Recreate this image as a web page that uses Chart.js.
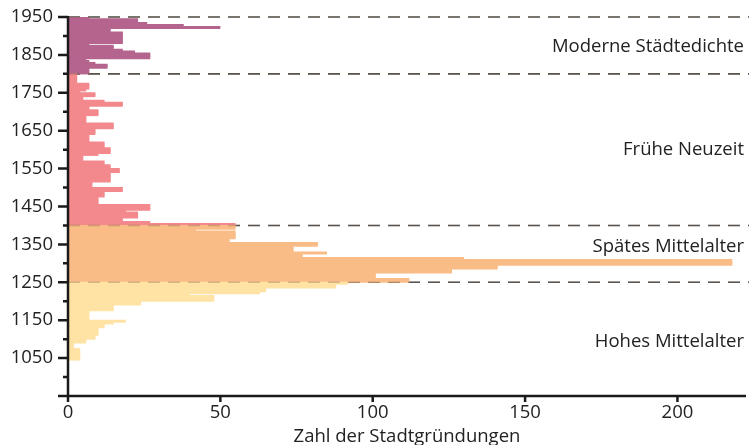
<!DOCTYPE html>
<html>
<head>
<meta charset="utf-8">
<script src="https://cdn.jsdelivr.net/npm/chart.js@4.4.1/dist/chart.umd.min.js"></script>
<style>
  html, body { margin: 0; padding: 0; background: #fff; }
</style>
</head>
<body>
<canvas id="chart" width="749" height="445"></canvas>
<script>
// Stadtgründungen je 5 Jahre, jede Liste beginnt bei ihrem Startjahr
var binYears = 5;

var hohesStart = 1045;
var hohesCounts = [4, 4, 4, 4, 4, 4, 2, 2, 2, 6, 6, 9, 9, 10, 10, 10, 10, 12, 12, 15,
  19, 7, 7, 7, 7, 7, 15, 15, 15, 24, 24, 48, 48, 48, 40, 63, 65, 65, 88, 88, 92];

var spaetesStart = 1250;
var spaetesCounts = [112, 112, 101, 101, 101, 126, 126, 141, 141, 218, 218, 218, 130, 77, 77,
  85, 74, 74, 74, 82, 82, 53, 53, 55, 55, 55, 55, 42, 55, 55];

var fruehStart = 1400;
var fruehCounts = [55, 27, 18, 18, 23, 23, 23, 19, 27, 27,
  27, 10, 10, 10, 10, 12, 12, 12, 18, 18,
  8, 8, 8, 14, 14, 14, 14, 14, 17, 17,
  14, 14, 12, 12, 5, 5, 5, 10, 14, 14,
  14, 12, 12, 12, 7, 7, 7, 7, 9, 9,
  9, 15, 15, 15, 6, 6, 6, 6, 10, 10,
  10, 7, 7, 18, 18, 12, 5, 5, 9, 9,
  4, 6, 7, 7, 7, 3, 3, 3, 3, 3];

var moderneStart = 1800;
var moderneCounts = [7, 7, 7, 13, 13, 9, 7, 6, 27, 27, 27, 22, 18, 15, 15,
  7, 18, 18, 18, 18, 18, 18, 14, 14, 50, 38, 26, 23, 23, 7];

var periodNames = ["Hohes Mittelalter", "Spätes Mittelalter", "Frühe Neuzeit", "Moderne Städtedichte"];
var periodBorders = [1250, 1400, 1800, 1950];
var yTickLabels = [1050, 1150, 1250, 1350, 1450, 1550, 1650, 1750, 1850, 1950];
var xTickLabels = [0, 50, 100, 150, 200];

var colors = ["#fee3a5", "#f9bc86", "#f3898d", "#b5648e"];
var labelYears = [1092, 1345, 1599, 1871];
var fontFamily = "'Open Sans', sans-serif";
var fontSize = 18.5;

function toPoints(start, counts) {
  return counts.map(function (c, i) {
    return { x: c, y: start + i * binYears + binYears / 2 };
  });
}

var datasets = [
  toPoints(hohesStart, hohesCounts),
  toPoints(spaetesStart, spaetesCounts),
  toPoints(fruehStart, fruehCounts),
  toPoints(moderneStart, moderneCounts)
].map(function (pts, i) {
  return {
    label: periodNames[i],
    data: pts,
    backgroundColor: colors[i],
    borderWidth: 0
  };
});

function dashes(chart, color, width) {
  var ctx = chart.ctx, y = chart.scales.y, area = chart.chartArea;
  ctx.save();
  ctx.strokeStyle = color;
  ctx.lineWidth = width;
  ctx.setLineDash([12, 8]);
  periodBorders.forEach(function (yr) {
    var py = y.getPixelForValue(yr);
    ctx.beginPath();
    ctx.moveTo(area.left, py);
    ctx.lineTo(chart.width, py);
    ctx.stroke();
  });
  ctx.restore();
}

var decor = {
  id: "decor",
  beforeDatasetsDraw: function (chart) {
    dashes(chart, "#555", 1.6);
  },
  afterDatasetsDraw: function (chart) {
    // faint dashes showing through the bars
    dashes(chart, "rgba(110,80,60,0.3)", 1.6);

    var ctx = chart.ctx, x = chart.scales.x, y = chart.scales.y, area = chart.chartArea;
    ctx.save();
    // period names
    ctx.fillStyle = "#222";
    ctx.font = fontSize + "px " + fontFamily;
    ctx.textAlign = "right";
    ctx.textBaseline = "middle";
    periodNames.forEach(function (name, i) {
      ctx.fillText(name, 744, y.getPixelForValue(labelYears[i]));
    });

    // axes
    ctx.strokeStyle = "#1a1a1a";
    ctx.lineWidth = 2.5;
    var bottom = y.getPixelForValue(950);
    ctx.beginPath();
    ctx.moveTo(area.left, y.getPixelForValue(1950) - 1);
    ctx.lineTo(area.left, bottom);
    ctx.moveTo(area.left - 10, bottom);
    ctx.lineTo(area.right, bottom);
    ctx.stroke();

    ctx.beginPath();
    for (var yr = 1000; yr <= 1950; yr += 50) {
      var py = y.getPixelForValue(yr);
      var len = (yr - 1050) % 100 === 0 ? 10 : 5;
      ctx.moveTo(area.left - len, py);
      ctx.lineTo(area.left, py);
    }
    xTickLabels.forEach(function (v) {
      var px = x.getPixelForValue(v);
      ctx.moveTo(px, bottom);
      ctx.lineTo(px, bottom + 6);
    });
    ctx.stroke();
    ctx.restore();
  }
};

new Chart(document.getElementById("chart"), {
  type: "bar",
  data: { datasets: datasets },
  options: {
    indexAxis: "y",
    responsive: false,
    animation: false,
    events: [],
    datasets: {
      bar: { grouped: false, barPercentage: 1.6, categoryPercentage: 1 }
    },
    layout: { padding: { top: 17, right: 3, left: 0, bottom: 0 } },
    plugins: { legend: { display: false }, tooltip: { enabled: false } },
    scales: {
      y: {
        type: "linear",
        offset: false,
        min: 950,
        max: 1950,
        afterBuildTicks: function (s) {
          s.ticks = yTickLabels.map(function (v) { return { value: v }; });
        },
        afterFit: function (s) {
          s.width = 68;
          s.paddingTop = 0;
          s.paddingBottom = 0;
        },
        grid: { display: false, drawTicks: false },
        border: { display: false },
        ticks: {
          padding: 15,
          color: "#222",
          callback: function (v) { return String(v); },
          font: { family: fontFamily, size: fontSize }
        }
      },
      x: {
        type: "linear",
        min: 0,
        max: 222.5,
        afterBuildTicks: function (s) {
          s.ticks = xTickLabels.map(function (v) { return { value: v }; });
        },
        afterFit: function (s) {
          s.height = 49;
          s.paddingLeft = 0;
          s.paddingRight = 0;
        },
        grid: { display: false, drawTicks: false },
        border: { display: false },
        ticks: {
          padding: 6,
          color: "#222",
          maxRotation: 0,
          callback: function (v) { return String(v); },
          font: { family: fontFamily, size: fontSize }
        },
        title: {
          display: true,
          text: "Zahl der Stadtgründungen",
          color: "#222",
          padding: { top: 0, bottom: -3 },
          font: { family: fontFamily, size: fontSize }
        }
      }
    }
  },
  plugins: [decor]
});
</script>
</body>
</html>
